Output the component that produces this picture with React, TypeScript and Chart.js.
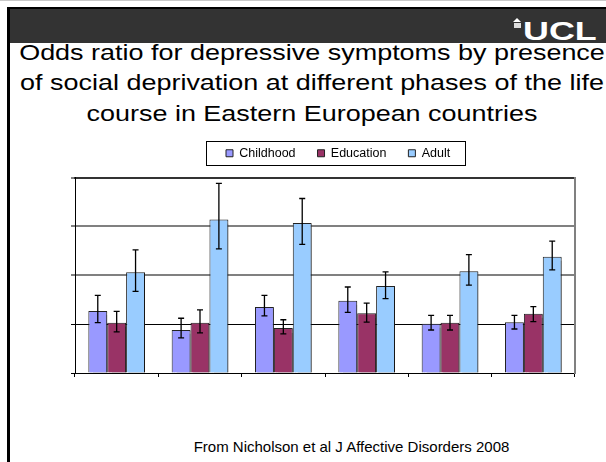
import { useEffect, useRef } from 'react';
import { Chart, registerables } from 'chart.js';

Chart.register(...registerables);

// ---------- data ----------
const categories = ['Group 1', 'Group 2', 'Group 3', 'Group 4', 'Group 5', 'Group 6'];
const seriesNames = ['Childhood', 'Education', 'Adult'];

const childhood = [1.27, 0.88, 1.35, 1.48, 1.01, 1.04];
const childhoodLow = [1.03, 0.72, 1.17, 1.24, 0.88, 0.9];
const childhoodHigh = [1.59, 1.12, 1.59, 1.76, 1.18, 1.18];

const education = [1.03, 1.03, 0.92, 1.22, 1.03, 1.21];
const educationLow = [0.84, 0.82, 0.8, 1.04, 0.88, 1.05];
const educationHigh = [1.26, 1.29, 1.09, 1.43, 1.18, 1.36];

const adult = [2.06, 3.14, 3.07, 1.78, 2.08, 2.38];
const adultLow = [1.67, 2.54, 2.63, 1.52, 1.8, 2.11];
const adultHigh = [2.52, 3.88, 3.57, 2.07, 2.42, 2.7];

const yMin = 0;
const yMax = 4;
const yStep = 1;
const referenceValue = 1;

const titleLines = [
  'Odds ratio for depressive symptoms by presence',
  'of social deprivation at different phases of the life',
  'course in Eastern European countries',
];
const footerText = 'From Nicholson et al J Affective Disorders 2008';
const logoText = 'UCL';

// ---------- styles ----------
const FONT = "'Liberation Sans', Arial, Helvetica, sans-serif";
const colors = ['#9999FF', '#993366', '#99CCFF'];
const LEGEND_PAD = 22;
const LEGEND_FONT = 12.5;
const LEGEND_FIRST_BOX = 226;

const errorBars = [
  { low: childhoodLow, high: childhoodHigh },
  { low: educationLow, high: educationHigh },
  { low: adultLow, high: adultHigh },
];

const plotPlugin = {
  id: 'plotExtras',
  afterUpdate(chart: any) {
    const lg = chart.legend;
    if (!lg) return;
    const w = lg.right - lg.left;
    lg.left = LEGEND_FIRST_BOX - LEGEND_PAD;
    lg.right = lg.left + w;
  },
  beforeDatasetsDraw(chart: any) {
    const ctx = chart.ctx;
    ctx.save();
    ctx.shadowColor = 'rgba(0,0,0,0.35)';
    ctx.shadowOffsetX = 2;
    ctx.shadowOffsetY = 1;
    ctx.shadowBlur = 1;
  },
  afterDatasetsDraw(chart: any) {
    const ctx = chart.ctx;
    ctx.restore();
    const yScale = chart.scales.y;
    ctx.save();
    ctx.strokeStyle = '#000';
    ctx.lineWidth = 1.3;
    errorBars.forEach((eb, di) => {
      const meta = chart.getDatasetMeta(di);
      meta.data.forEach((bar: any, i: number) => {
        const x = bar.x;
        const yH = yScale.getPixelForValue(eb.high[i]);
        const yL = yScale.getPixelForValue(eb.low[i]);
        ctx.beginPath();
        ctx.moveTo(x, yH);
        ctx.lineTo(x, yL);
        ctx.moveTo(x - 3, yH);
        ctx.lineTo(x + 3, yH);
        ctx.moveTo(x - 3, yL);
        ctx.lineTo(x + 3, yL);
        ctx.stroke();
      });
    });
    ctx.restore();
  },
  afterDraw(chart: any) {
    const lg = chart.legend;
    if (!lg || !lg.lineWidths) return;
    const startX = lg.left + LEGEND_PAD;
    const endX = startX + lg.lineWidths[0] - LEGEND_PAD;
    const midY = lg.top + LEGEND_PAD + LEGEND_FONT / 2;
    const ctx = chart.ctx;
    ctx.save();
    ctx.strokeStyle = '#000';
    ctx.lineWidth = 1;
    const x0 = Math.round(startX - 20) + 0.5;
    const x1 = Math.round(endX + 15) + 0.5;
    const y0 = Math.round(midY - 12) + 0.5;
    const y1 = Math.round(midY + 12) + 0.5;
    ctx.strokeRect(x0, y0, x1 - x0, y1 - y0);
    ctx.restore();
  },
};

function ChartCanvas() {
  const ref = useRef<HTMLCanvasElement | null>(null);
  useEffect(() => {
    if (!ref.current) return;
    Chart.defaults.font.family = FONT;
    const series = [childhood, education, adult];
    const chart = new Chart(ref.current, {
      type: 'bar',
      data: {
        labels: categories,
        datasets: seriesNames.map((name, i) => ({
          label: name,
          data: series[i],
          backgroundColor: colors[i],
          borderColor: '#222',
          borderWidth: 1,
          categoryPercentage: 0.68,
          barPercentage: 1.0,
        })),
      },
      options: {
        responsive: false,
        maintainAspectRatio: false,
        animation: false,
        events: [],
        layout: { padding: { left: 71, right: 31, top: 0, bottom: 13 } },
        plugins: {
          legend: {
            display: true,
            position: 'top',
            align: 'start',
            labels: {
              boxWidth: 7,
              boxHeight: 7,
              padding: LEGEND_PAD,
              color: '#000',
              font: { family: FONT, size: LEGEND_FONT },
            },
          },
          title: { display: false },
          tooltip: { enabled: false },
        },
        scales: {
          x: {
            type: 'category',
            offset: true,
            ticks: { display: false },
            grid: {
              offset: true,
              drawOnChartArea: false,
              drawTicks: true,
              tickLength: 4,
              tickColor: '#000',
              tickWidth: 1,
            },
            border: { display: true, color: '#000', width: 1 },
          },
          x2: {
            type: 'category',
            position: 'top',
            labels: categories,
            ticks: { display: false },
            grid: {
              drawOnChartArea: false,
              drawTicks: true,
              tickLength: 8,
              tickColor: 'rgba(0,0,0,0)',
            },
            border: { display: true, color: '#333', width: 2 },
          },
          y: {
            type: 'linear',
            min: yMin,
            max: yMax,
            ticks: { stepSize: yStep, display: false },
            grid: {
              drawTicks: true,
              tickLength: 4,
              tickColor: '#000',
              tickWidth: 1,
              color: (c: any) =>
                c.tick && (c.tick.value === referenceValue || c.tick.value === yMin) ? '#000' : '#808080',
              lineWidth: (c: any) =>
                c.tick && (c.tick.value === referenceValue || c.tick.value === yMin) ? 1 : 2,
            },
            border: { display: true, color: '#000', width: 1 },
          },
          y2: {
            type: 'linear',
            position: 'right',
            min: yMin,
            max: yMax,
            ticks: { display: false },
            grid: { drawOnChartArea: false, drawTicks: false },
            border: { display: true, color: '#808080', width: 2 },
          },
        },
      } as any,
      plugins: [plotPlugin],
    });
    return () => chart.destroy();
  }, []);
  return (
    <canvas
      ref={ref}
      width={606}
      height={265}
      style={{ position: 'absolute', left: 0, top: 125, width: 606, height: 265 }}
    />
  );
}

export default function App() {
  return (
    <div
      style={{
        position: 'absolute',
        left: 0,
        top: 0,
        width: 606,
        height: 462,
        overflow: 'hidden',
        background: '#fff',
        fontFamily: FONT,
      }}
    >
      <div style={{ position: 'absolute', left: 0, top: 0, width: 606, height: 1, background: '#c8c8c8' }} />
      <div
        style={{
          position: 'absolute',
          left: 7,
          top: 7,
          width: 599,
          height: 34,
          background: '#333',
          borderTop: '2px solid #000',
        }}
      />
      <div style={{ position: 'absolute', left: 7, top: 7, width: 3, height: 455, background: '#000' }} />
      {/* logo */}
      <div
        style={{
          position: 'absolute',
          left: 513,
          top: 18,
          width: 0,
          height: 0,
          borderLeft: '4.5px solid transparent',
          borderRight: '4.5px solid transparent',
          borderBottom: '4px solid #fff',
        }}
      />
      <div style={{ position: 'absolute', left: 514, top: 23, width: 7, height: 5, background: '#ddd' }} />
      <div
        style={{
          position: 'absolute',
          left: 523,
          top: 18,
          fontSize: 26,
          lineHeight: '26px',
          fontWeight: 'bold',
          color: '#fff',
          whiteSpace: 'nowrap',
          transform: 'scaleX(1.38)',
          transformOrigin: '0 0',
          fontFamily: FONT,
        }}
      >
        {logoText}
      </div>
      {/* title */}
      <div
        style={{
          position: 'absolute',
          left: 9,
          top: 37.6,
          width: 606,
          fontSize: 22,
          lineHeight: '30.5px',
          textAlign: 'center',
          color: '#000',
          whiteSpace: 'nowrap',
          transform: 'scaleX(1.225)',
          transformOrigin: '50% 0',
          fontFamily: FONT,
        }}
      >
        {titleLines.map((t, i) => (
          <div key={i}>{t}</div>
        ))}
      </div>
      <ChartCanvas />
      {/* footer */}
      <div
        style={{
          position: 'absolute',
          left: 48.5,
          top: 439.3,
          width: 606,
          fontSize: 15,
          lineHeight: '15px',
          textAlign: 'center',
          color: '#000',
          whiteSpace: 'nowrap',
          fontFamily: FONT,
        }}
      >
        {footerText}
      </div>
    </div>
  );
}
